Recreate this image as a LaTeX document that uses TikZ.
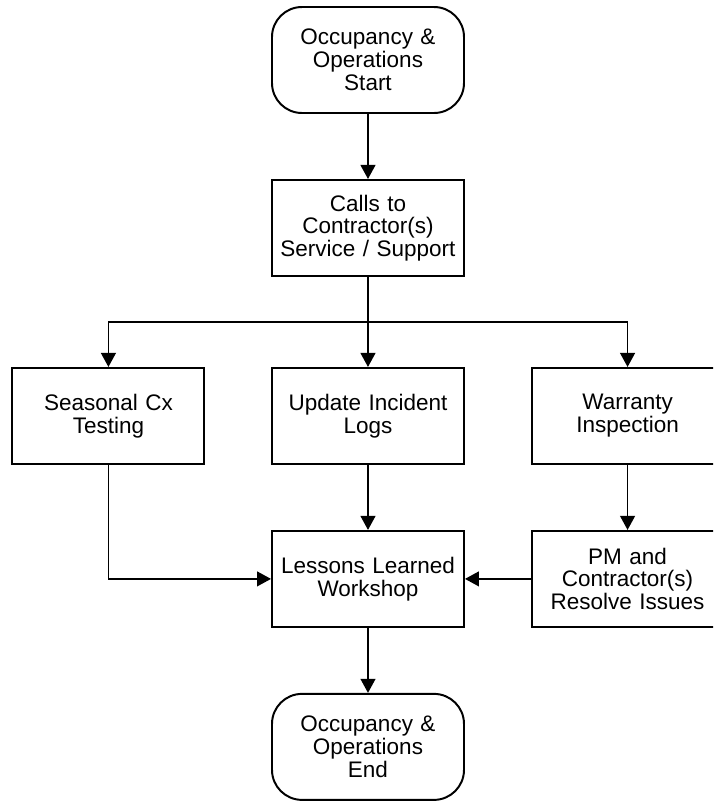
\documentclass[tikz,border=0pt]{standalone}
\usepackage{fontspec}
\setmainfont{Liberation Sans}
\usepackage{tikz}
\usetikzlibrary{arrows.meta,positioning,calc}
\tikzset{
  procbox/.style={
    rectangle, draw=black, line width=1.4pt, fill=white,
    minimum width=4.8cm, minimum height=2.4cm, inner sep=0pt,
    text width=4.6cm, align=center,
    font=\fontsize{16}{16.2}\selectfont
  },
  termbox/.style={
    procbox, rounded corners=0.75cm, minimum height=2.65cm
  },
  linkarrow/.style={-{Triangle[length=3.5mm,width=3.7mm]}, line width=1.2pt}
}
\begin{document}
\begin{tikzpicture}[node distance=1.625cm and 1.64cm]
\clip (-9.2,1.5) rectangle (8.625,-18.525);
\fill[white] (-9.2,1.5) rectangle (8.625,-18.525);

\node[termbox] (start) at (0,0) {Occupancy \&\\Operations\\Start};
\node[procbox, below=of start] (calls) {Calls to\\Contractor(s)\\Service / Support};
\node[procbox, below=2.25cm of calls] (logs) {Update Incident\\Logs};
\node[procbox, left=of logs] (seasonal) {Seasonal Cx\\Testing};
\node[procbox, right=of logs] (warranty) {Warranty\\Inspection};
\node[procbox, below=of logs] (lessons) {Lessons Learned\\Workshop};
\node[procbox, below=of warranty] (resolve) {PM and\\Contractor(s)\\Resolve Issues};
\node[termbox, below=of lessons] (finish) {Occupancy \&\\Operations\\End};

\coordinate (split) at ($(calls.south)!0.5!(logs.north)$);

\draw[linkarrow] (start) -- (calls);
\draw[linkarrow] (calls) -- (logs);
\draw[linkarrow] (split) -| (seasonal.north);
\draw[linkarrow] (split) -| (warranty.north);
\draw[linkarrow] (logs) -- (lessons);
\draw[linkarrow] (seasonal.south) |- (lessons.west);
\draw[linkarrow] (warranty) -- (resolve);
\draw[linkarrow] (resolve) -- (lessons);
\draw[linkarrow] (lessons) -- (finish);
\end{tikzpicture}
\end{document}
